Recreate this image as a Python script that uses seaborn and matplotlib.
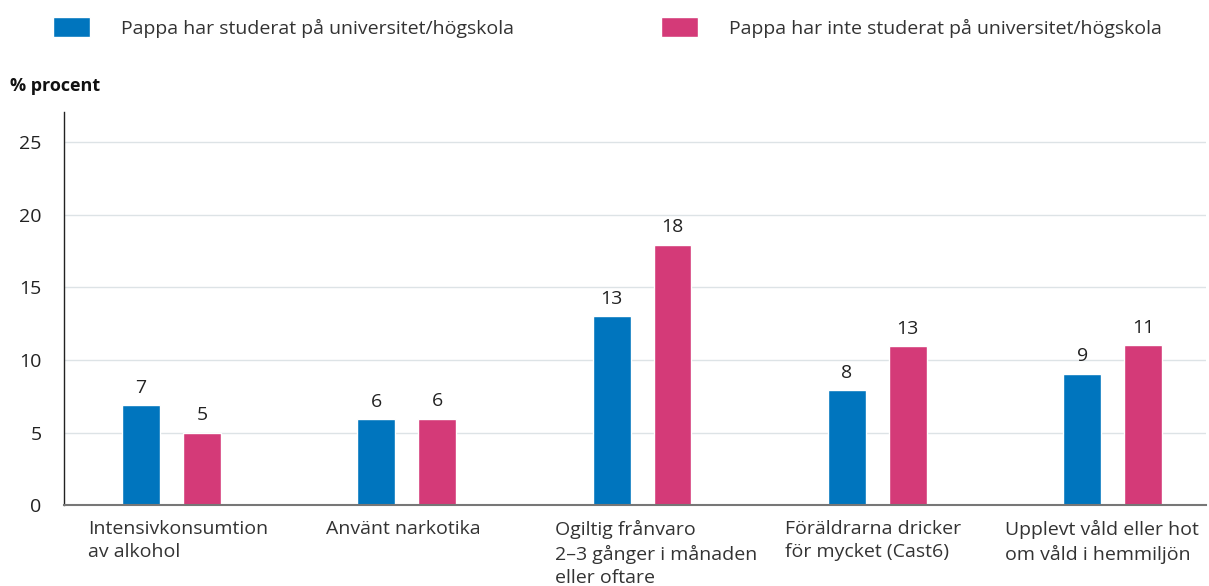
import pandas as pd
import matplotlib.pyplot as plt
import matplotlib.transforms as mtransforms
import seaborn as sns

categories = ['Intensivkonsumtion\nav alkohol',
              'Använt narkotika',
              'Ogiltig frånvaro\n2–3 gånger i månaden\neller oftare',
              'Föräldrarna dricker\nför mycket (Cast6)',
              'Upplevt våld eller hot\nom våld i hemmiljön']
series = ['Pappa har studerat på universitet/högskola',
          'Pappa har inte studerat på universitet/högskola']
# bar heights as drawn
studerat = [6.9, 5.9, 13.0, 7.9, 9.05]
inte_studerat = [5.0, 5.95, 17.95, 10.95, 11.0]
# value labels as printed
studerat_labels = ['7', '6', '13', '8', '9']
inte_studerat_labels = ['5', '6', '18', '13', '11']
colors = ['#0075be', '#d43a78']

df = pd.DataFrame({
    'kategori': categories * 2,
    'grupp': [series[0]] * 5 + [series[1]] * 5,
    'procent': studerat + inte_studerat,
})

sns.set_style('white')
plt.rcParams['font.family'] = ['Open Sans', 'DejaVu Sans']

fig = plt.figure(figsize=(12.09, 5.86), dpi=100)
ax = fig.add_axes([0.0529, 0.1382, 0.9446, 0.6707])

sns.barplot(data=df, x='kategori', y='procent', hue='grupp', palette=colors,
            width=0.518, gap=0.377, ax=ax, saturation=1)

for cont, labels in zip(ax.containers, [studerat_labels, inte_studerat_labels]):
    ax.bar_label(cont, labels=labels, padding=6, fontsize=14, color='#222222')

ax.set_xlim(-0.457, 4.397)
ax.set_ylim(0, 27.1)
ax.set_yticks([0, 5, 10, 15, 20, 25])
ax.yaxis.grid(True, color='#dde3e6', linewidth=1)
ax.set_axisbelow(True)
ax.set_xlabel('')
ax.set_ylabel('')
ax.tick_params(axis='y', length=0, pad=16, labelsize=14, labelcolor='#222222')
ax.tick_params(axis='x', length=0, pad=11, labelsize=14, labelcolor='#333333')

for s in ['top', 'right']:
    ax.spines[s].set_visible(False)
ax.spines['left'].set_color('#222222')
ax.spines['left'].set_linewidth(1)
ax.spines['bottom'].set_color('#777777')
ax.spines['bottom'].set_linewidth(1.5)

# left-aligned tick labels, shifted left of the group centre (inches)
label_shift = [0.835, 0.805, 0.87, 0.925, 1.075]
for lab, dx in zip(ax.get_xticklabels(), label_shift):
    lab.set_horizontalalignment('left')
    lab.set_verticalalignment('top')
    lab.set_multialignment('left')
    lab.set_linespacing(1.36)
    lab.set_transform(lab.get_transform() +
                      mtransforms.ScaledTranslation(-dx, 0, fig.dpi_scale_trans))

handles, labels = ax.get_legend_handles_labels()
ax.get_legend().remove()
fig.legend(handles, labels, loc='upper left', bbox_to_anchor=(0.029, 1.0),
           ncol=2, frameon=False, fontsize=14, labelcolor='#333333',
           handlelength=1.9, handleheight=1.19, handletextpad=1.6,
           columnspacing=7.6)

fig.text(0.008, 0.845, '% procent', fontsize=13, fontweight='bold', color='#111111')

fig.savefig('out.png', dpi=100)
